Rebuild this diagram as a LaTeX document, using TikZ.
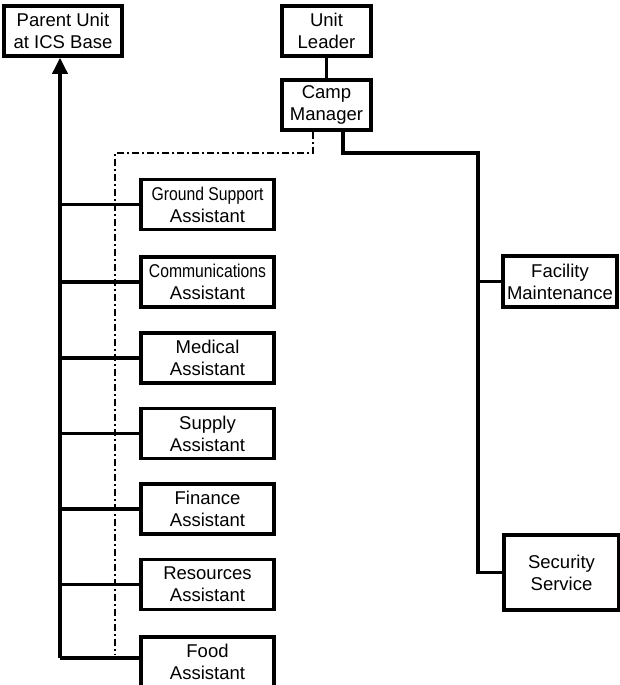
\documentclass[tikz,border=0pt]{standalone}
\usepackage{fontspec}
\setmainfont{Liberation Sans}
\usetikzlibrary{arrows.meta}
\tikzset{
    box/.style={draw, line width=3.5pt, align=center, inner sep=0pt,
        font=\fontsize{18.5}{22}\selectfont},
    assist/.style={box, minimum width=133pt, minimum height=50pt},
    link/.style={line width=3.5pt},
    staff/.style={line width=1.6pt, dash pattern=on 7pt off 3pt on 2pt off 3pt}
}
% squeezed label line, as in the narrow boxes
\newcommand{\narrow}[1]{\scalebox{0.85}[1]{#1}}
\begin{document}
\begin{tikzpicture}[x=1pt,y=-1pt]
        \useasboundingbox (0,0) rectangle (620,685);
        % top row
        \node[box, minimum width=118pt, minimum height=50pt] (parent) at (63,31) {Parent Unit\\at ICS Base};
        \node[box, minimum width=89pt, minimum height=50pt] (leader) at (326.5,31) {Unit\\Leader};
        \node[box, minimum width=89pt, minimum height=50pt] (camp) at (326.5,105) {Camp\\Manager};
        % assistants
        \node[assist] (ground) at (207.5,204.5) {\narrow{Ground Support}\\Assistant};
        \node[assist] (comms) at (207.5,282) {\narrow{Communications}\\Assistant};
        \node[assist] (medical) at (207.5,358) {Medical\\Assistant};
        \node[assist] (supply) at (207.5,433.5) {Supply\\Assistant};
        \node[assist] (finance) at (207.5,509) {Finance\\Assistant};
        \node[assist] (resources) at (207.5,584.5) {Resources\\Assistant};
        \node[assist] (food) at (207.5,662) {Food\\Assistant};
        % camp units
        \node[box, minimum width=114pt, minimum height=51pt] (facility) at (560,281.5) {Facility\\Maintenance};
        \node[box, minimum width=115pt, minimum height=75pt] (security) at (561.5,572.5) {Security\\Service};
        % corner points
        \coordinate (spine) at (60,658);
        \coordinate (dashtop) at (313,153);
        \coordinate (dashend) at (115,655);
        \coordinate (camptop) at (343,153);
        \coordinate (campspine) at (478,153);
        \draw[link] (leader) -- (camp);
        \draw[link, -{Triangle[length=16pt,width=15pt]}] (spine) -- (spine |- parent.south);
        \draw[link] (spine) -- (food.west |- spine);
        \foreach \n in {ground,comms,medical,supply,finance,resources}
            \draw[link] (spine |- \n.west) -- (\n.west);
        \draw[staff] (camp.south -| dashtop) -- (dashtop) -| (dashend);
        \draw[link] (camp.south -| camptop) -- (camptop) -- (campspine) |- (security.west);
        \draw[link] (campspine |- facility.west) -- (facility.west);
    \end{tikzpicture}
\end{document}
